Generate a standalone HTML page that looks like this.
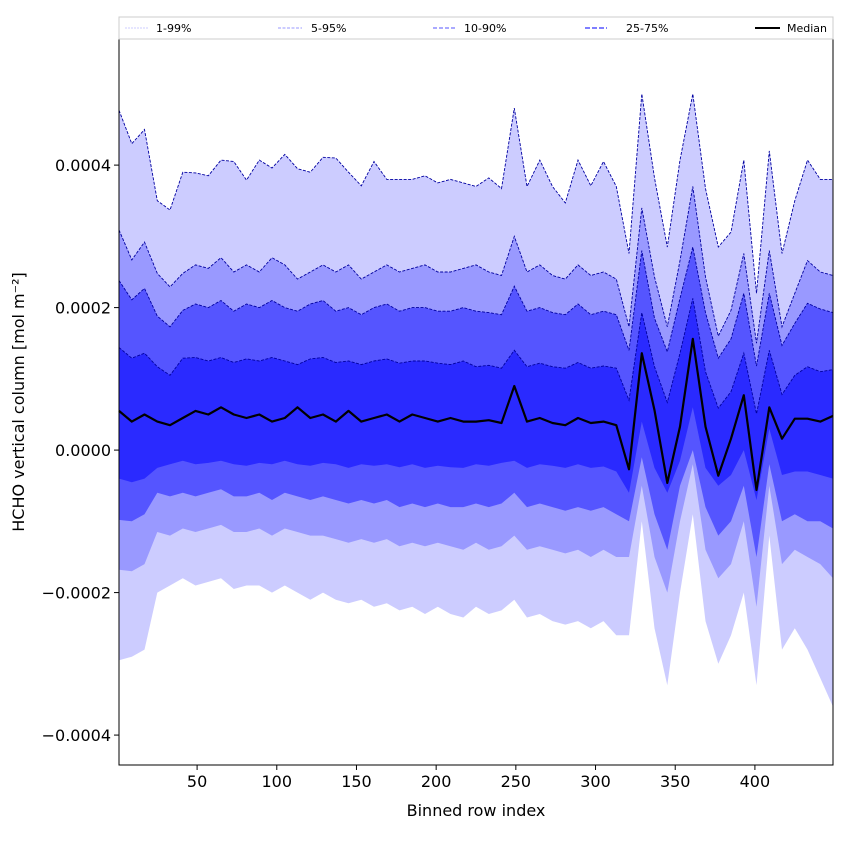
<!DOCTYPE html>
<html><head><meta charset="utf-8"><style>
body{margin:0;background:#fff;}
svg{display:block;font-family:"DejaVu Sans","Liberation Sans",sans-serif;}
</style></head><body>
<svg id="chart" width="850" height="850" xmlns="http://www.w3.org/2000/svg">
<g id="bands"></g>
<g id="lines"></g>
<rect x="119" y="39" width="714" height="726" fill="none" stroke="#000" stroke-width="1"/>
<g id="xticks"></g>
<g id="yticks"></g>
<text x="476" y="816" font-size="16" text-anchor="middle">Binned row index</text>
<text transform="translate(24,402) rotate(-90)" font-size="16" text-anchor="middle">HCHO vertical column [mol m⁻²]</text>
<g>
<rect x="119" y="17" width="714" height="22" fill="#fff" stroke="#ccc" stroke-width="1"/>
<line x1="125" y1="28" x2="148" y2="28" stroke="#ccccff" stroke-width="1" stroke-dasharray="2,1"/>
<text x="156" y="32" font-size="11">1-99%</text>
<line x1="278" y1="28" x2="302" y2="28" stroke="#9999ff" stroke-width="1" stroke-dasharray="3,1.5"/>
<text x="311" y="32" font-size="11">5-95%</text>
<line x1="433" y1="28" x2="455" y2="28" stroke="#7777ff" stroke-width="1.2" stroke-dasharray="4,2"/>
<text x="464" y="32" font-size="11">10-90%</text>
<line x1="585" y1="28" x2="607" y2="28" stroke="#5555ff" stroke-width="1.5" stroke-dasharray="5,2"/>
<text x="626" y="32" font-size="11">25-75%</text>
<line x1="755" y1="28" x2="780" y2="28" stroke="#000" stroke-width="2"/>
<text x="787" y="32" font-size="11">Median</text>
</g>
</svg>
<script>
// values in units of 1e-5 mol m^-2
const rows=[1,9,17,25,33,41,49,57,65,73,81,89,97,105,113,121,129,137,145,153,161,169,177,185,193,201,209,217,225,233,241,249,257,265,273,281,289,297,305,313,321,329,337,345,353,361,369,377,385,393,401,409,417,425,433,441,449];
const p99=[47.7,43,45,35,33.7,39,38.9,38.5,40.7,40.5,37.9,40.7,39.6,41.5,39.5,39,41.1,41,39,37.1,40.5,38,38,38,38.5,37.5,38,37.5,37,38.2,36.7,48,37,40.7,37,34.7,40.7,37.1,40.5,37,27.6,50,38.2,28.5,40.7,50,36.7,28.5,30.6,40.7,22,42,27.6,35,40.7,38,38];
const p95=[30.9,26.7,29.2,24.8,22.9,24.8,26,25.5,27,25,26,25,27,26,24,25,26,25,26,24,25,26,25,25.5,26,25,25,25.5,26,25,24.5,30,25,26,24.5,24,26,24.5,25,24,17.3,34,24.3,17.3,26.6,37,24.3,16,19.6,27.6,15,28,17.3,22,26.6,25,24.5];
const p90=[23.8,21.1,22.7,18.8,17.3,19.6,20.5,20,21,19.5,20.5,20,21,20,19.5,20.5,21,19.5,20,19,20,20.5,19.5,20,20,19.5,19.5,20,19.5,19.3,19,23,19.5,20,19.3,19,20.5,19,19.5,19,14,28,18.5,13.8,21.3,28.5,19.3,12.9,15.6,22,11.8,22,14.7,17.8,20.6,19.8,19.3];
const p75=[14.4,12.9,13.6,11.7,10.5,12.9,13,12.5,13,12.3,12.8,12.5,13,12.5,12,12.8,13,12.3,12.5,12,12.5,12.8,12.2,12.5,12.5,12.2,12,12.5,11.7,11.9,11.5,14,11.7,12.2,11.7,11.5,12.3,11.5,11.8,11.5,7,19.3,11.7,6.7,13.6,21.3,11,5.9,8.2,13.6,5.1,14,7.8,10.5,11.7,11,11.3];
const median=[5.5,4,5,4,3.5,4.5,5.5,5,6,5,4.5,5,4,4.5,6,4.5,5,4,5.5,4,4.5,5,4,5,4.5,4,4.5,4,4,4.2,3.8,9,4,4.5,3.8,3.5,4.5,3.8,4,3.5,-2.7,13.6,5.6,-4.6,3.3,15.6,3.3,-3.6,1.6,7.7,-5.6,6,1.6,4.4,4.4,4,4.8];
const p25=[-4,-4.5,-4,-2.5,-2,-1.5,-2,-1.8,-1.5,-2,-2.2,-1.8,-2,-1.5,-2,-2.2,-1.8,-2,-2.5,-2,-2.2,-2,-2.4,-2,-2.5,-2.2,-2.4,-2.5,-2,-2.2,-1.8,-1.5,-2.5,-2,-2.2,-2.5,-2,-2.5,-2.3,-3,-6,4,-2.5,-6,-1.5,6,-2.5,-5,-3.5,0,-7,3,-3.5,-3,-3,-3.5,-4];
const p10=[-9.8,-10,-9,-6,-6.5,-6,-6.5,-6,-5.5,-6.5,-6.5,-6,-7,-6,-6.5,-7,-6.5,-7,-7.5,-7,-7.5,-7,-8,-7.5,-8,-7.5,-8,-8,-7.5,-8,-7.5,-6,-8,-7.5,-8,-8.5,-8,-8.5,-8,-9,-10,-1,-9,-14,-5,0,-8,-12,-10,-5,-15,-2,-10,-9,-10,-10,-11];
const p5=[-16.8,-17,-16,-11.5,-12,-11,-11.5,-11,-10.5,-11.5,-11.5,-11,-12,-11,-11.5,-12,-12,-12.5,-13,-12.5,-13,-12.5,-13.5,-13,-13.5,-13,-13.5,-14,-13,-14,-13.5,-12,-14,-13.5,-14,-14.5,-14,-15,-14,-15,-15,-5,-15,-20,-10,-2,-14,-18,-16,-10,-22,-5,-16,-14,-15,-16,-18];
const p1=[-29.5,-29,-28,-20,-19,-18,-19,-18.5,-18,-19.5,-19,-19,-20,-19,-20,-21,-20,-21,-21.5,-21,-22,-21.5,-22.5,-22,-23,-22,-23,-23.5,-22,-23,-22.5,-21,-23.5,-23,-24,-24.5,-24,-25,-24,-26,-26,-10,-25,-33,-20,-9,-24,-30,-26,-20,-33,-12,-28,-25,-28,-32,-36];
const xTicks=[50,100,150,200,250,300,350,400];
const yTicks=[-40,-20,0,20,40];
const yTickLabels=["\u22120.0004","\u22120.0002","0.0000","0.0002","0.0004"];

const NS="http://www.w3.org/2000/svg";
const X0=119,X1=833,Y0=39,Y1=765;
const xMin=1,xMax=449,yMin=-44.2,yMax=57.7;
function sx(v){return X0+(v-xMin)/(xMax-xMin)*(X1-X0);}
function sy(v){return Y1-(v-yMin)/(yMax-yMin)*(Y1-Y0);}
function mk(tag,attrs,parent){const e=document.createElementNS(NS,tag);for(const k in attrs)e.setAttribute(k,attrs[k]);parent.appendChild(e);return e;}
function pts(arr){return rows.map((r,i)=>sx(r).toFixed(1)+","+sy(arr[i]).toFixed(1));}

const bands=document.getElementById('bands');
const pairs=[[p1,p99,'#ccccff','band-1-99'],[p5,p95,'#9999ff','band-5-95'],[p10,p90,'#5555ff','band-10-90'],[p25,p75,'#2a2aff','band-25-75']];
pairs.forEach(([lo,hi,c,n])=>{
  const d=pts(hi).concat(pts(lo).reverse()).join(" ");
  const p=mk('polygon',{points:d,fill:c},bands);
  
  
});
const lines=document.getElementById('lines');
[[p99,'upper-line-99'],[p95,'upper-line-95'],[p90,'upper-line-90'],[p75,'upper-line-75']].forEach(([a,n])=>{
  const l=mk('polyline',{points:pts(a).join(" "),fill:'none',stroke:'#0000a0','stroke-width':0.9,'stroke-dasharray':'3,1.5'},lines);
  
  
});
const med=mk('polyline',{points:pts(median).join(" "),fill:'none',stroke:'#000','stroke-width':2.2,'stroke-linejoin':'round'},lines);



const xg=document.getElementById('xticks');
xTicks.forEach(t=>{
  const x=sx(t);
  const l=mk('line',{x1:x,y1:Y1,x2:x,y2:Y1+5,stroke:'#000'},xg);
  
  
  const tx=mk('text',{x:x,y:Y1+22,'font-size':16,'text-anchor':'middle'},xg);
  tx.textContent=t;
  
  
});
const yg=document.getElementById('yticks');
yTicks.forEach((t,i)=>{
  const y=sy(t);
  const l=mk('line',{x1:X0-5,y1:y,x2:X0,y2:y,stroke:'#000'},yg);
  
  
  const tx=mk('text',{x:X0-8,y:y+6,'font-size':16,'text-anchor':'end'},yg);
  tx.textContent=yTickLabels[i];
  
  
});
</script>
</body></html>
